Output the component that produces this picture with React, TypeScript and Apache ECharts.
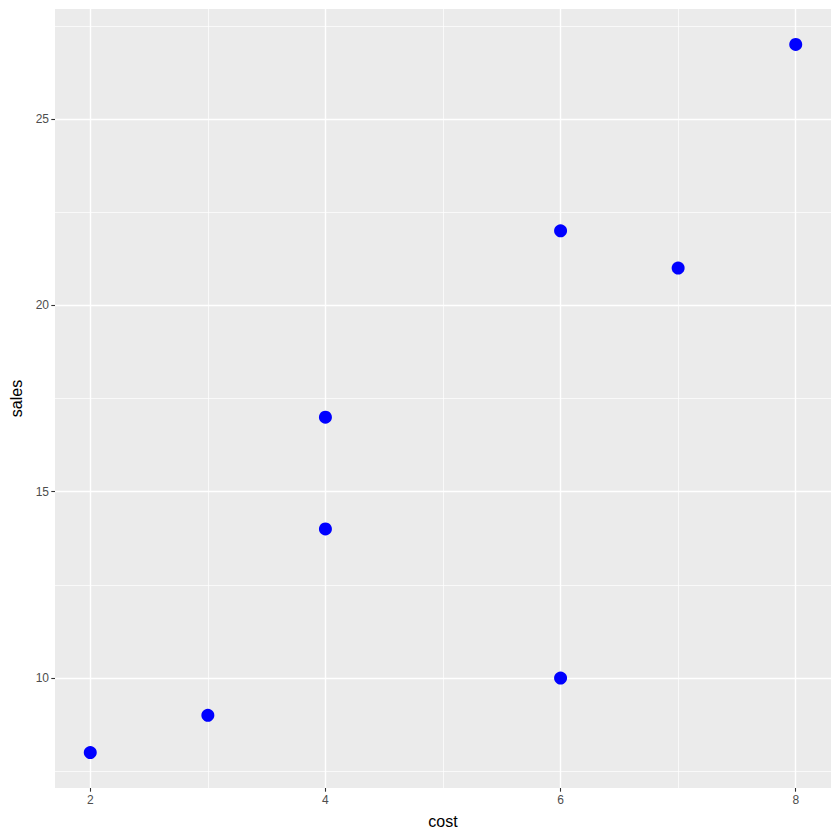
import React, { useEffect, useRef } from "react";
import * as echarts from "echarts";

const costs = [2, 3, 4, 4, 6, 6, 7, 8];
const sales = [8, 9, 14, 17, 10, 22, 21, 27];
const xMajor = [2, 4, 6, 8];
const xMinor = [3, 5, 7];
const yMajor = [10, 15, 20, 25];
const yMinor = [7.5, 12.5, 17.5, 22.5, 27.5];

export default function App() {
  const ref = useRef<HTMLDivElement>(null);
  useEffect(() => {
    if (!ref.current) return;
    const chart = echarts.init(ref.current, null, { renderer: "svg" });
    const xMin = 2 - 0.05 * 6;
    const xMax = 8 + 0.05 * 6;
    const yMin = 8 - 0.05 * 19;
    const yMax = 27 + 0.05 * 19;
    const font = "'Liberation Sans', Arial, Helvetica, sans-serif";
    const gridLine = (vals: number[], key: "xAxis" | "yAxis", w: number) =>
      vals.map((v) => ({ [key]: v, lineStyle: { color: "#ffffff", width: w, type: "solid" } }));
    chart.setOption({
      animation: false,
      grid: {
        left: 55,
        right: 9,
        top: 9,
        bottom: 52,
        show: true,
        backgroundColor: "#EBEBEB",
        borderWidth: 0,
      },
      xAxis: {
        type: "value",
        min: xMin,
        max: xMax,
        name: "cost",
        nameLocation: "middle",
        nameGap: 25,
        nameTextStyle: { color: "#000000", fontSize: 16, fontFamily: font },
        axisLine: { show: false },
        axisTick: {
          show: true,
          customValues: xMajor,
          length: 3.7,
          lineStyle: { color: "#333333", width: 1.1 },
        },
        axisLabel: {
          customValues: xMajor,
          color: "#4D4D4D",
          fontSize: 12,
          fontFamily: font,
          margin: 6,
        },
        splitLine: { show: false },
      },
      yAxis: {
        type: "value",
        min: yMin,
        max: yMax,
        name: "sales",
        nameLocation: "middle",
        nameGap: 30,
        nameTextStyle: { color: "#000000", fontSize: 16, fontFamily: font },
        axisLine: { show: false },
        axisTick: {
          show: true,
          customValues: yMajor,
          length: 3.7,
          lineStyle: { color: "#333333", width: 1.1 },
        },
        axisLabel: {
          customValues: yMajor,
          color: "#4D4D4D",
          fontSize: 12,
          fontFamily: font,
          margin: 6,
        },
        splitLine: { show: false },
      },
      series: [
        {
          type: "scatter",
          data: [],
          silent: true,
          z: 1,
          markLine: {
            silent: true,
            symbol: ["none", "none"],
            label: { show: false },
            animation: false,
            data: [
              ...gridLine(xMinor, "xAxis", 0.7),
              ...gridLine(yMinor, "yAxis", 0.7),
              ...gridLine(xMajor, "xAxis", 1.4),
              ...gridLine(yMajor, "yAxis", 1.4),
            ],
          },
        },
        {
          type: "scatter",
          z: 5,
          symbol: "circle",
          symbolSize: 13,
          itemStyle: { color: "#0000FF", opacity: 1 },
          data: costs.map((c, i) => [c, sales[i]]),
        },
      ],
    });
    return () => chart.dispose();
  }, []);
  return (
    <div
      ref={ref}
      style={{ position: "fixed", left: 0, top: 0, width: 840, height: 840, background: "#ffffff" }}
    />
  );
}
